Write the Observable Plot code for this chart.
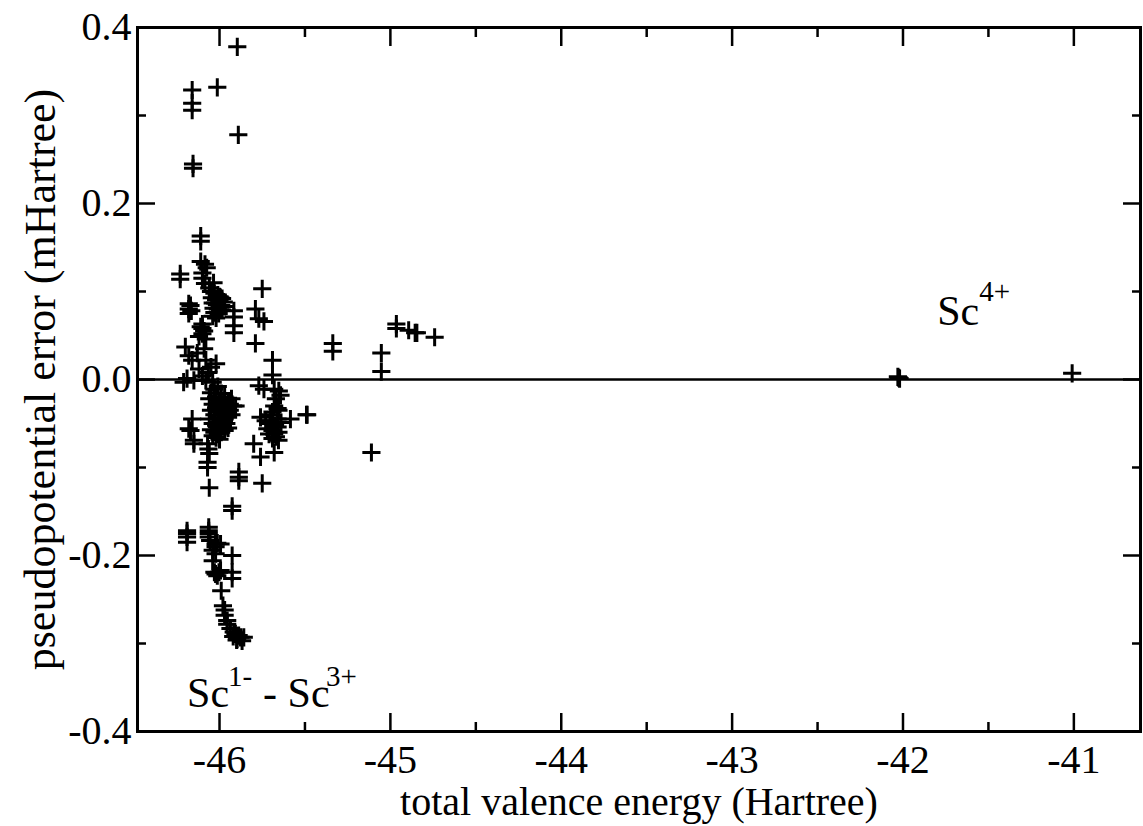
<!DOCTYPE html>
<html>
<head>
<meta charset="utf-8">
<script src="https://cdn.jsdelivr.net/npm/d3@7"></script>
<script src="https://cdn.jsdelivr.net/npm/@observablehq/plot@0.6"></script>
<style>
  html, body { margin: 0; padding: 0; background: #fff; }
  #chart { width: 1143px; height: 826px; }
</style>
</head>
<body>
<div id="chart"></div>
<script>
// ---- data: [total valence energy (Hartree), pseudopotential error (mHartree)] ----
const scLowPoints = [
  [-45.896,0.378],[-46.013,0.332],[-46.16,0.329],[-46.16,0.314],[-46.16,0.306],[-45.89,0.278],[-46.155,0.245],[-46.155,0.240],
  [-46.11,0.163],[-46.11,0.157],[-46.11,0.134],[-46.085,0.131],[-46.075,0.127],[-46.23,0.120],[-46.23,0.114],[-46.10,0.121],
  [-46.10,0.115],[-46.085,0.109],[-46.035,0.110],[-46.06,0.104],[-45.75,0.103],
  [-46.05,0.100],[-46.03,0.098],[-46.01,0.096],[-46.00,0.094],[-45.985,0.092],[-46.045,0.093],[-46.02,0.091],[-46.00,0.089],
  [-45.975,0.088],[-46.04,0.087],[-46.015,0.085],[-45.99,0.084],[-45.97,0.083],[-46.035,0.081],[-46.01,0.080],[-45.985,0.079],
  [-46.03,0.076],[-46.005,0.075],[-46.04,0.072],[-46.02,0.070],[-45.995,0.093],[-46.025,0.087],[-45.995,0.082],
  [-46.18,0.086],[-46.18,0.080],[-46.18,0.075],[-46.17,0.084],[-46.165,0.078],
  [-45.916,0.078],[-45.916,0.071],[-45.916,0.061],[-45.916,0.053],
  [-46.10,0.063],[-46.10,0.058],[-46.10,0.052],[-46.11,0.060],[-46.09,0.055],[-46.12,0.049],[-46.08,0.046],
  [-45.79,0.080],[-45.77,0.069],[-45.74,0.066],[-45.79,0.041],[-45.69,0.022],[-45.69,0.005],
  [-46.2,0.037],[-46.18,0.027],[-46.16,0.022],[-46.08,0.022],[-46.02,0.018],[-46.12,0.012],[-46.065,0.008],[-46.19,0.001],
  [-46.15,-0.001],[-46.08,-0.001],[-46.04,-0.003],[-46.21,-0.003],[-46.10,0.004],[-46.05,0.014],[-46.13,0.030],[-46.09,0.035],
  [-46.03,-0.011],[-45.99,-0.016],[-45.975,-0.024],[-45.94,-0.028],[-46.05,-0.015],[-46.02,-0.020],[-46.00,-0.025],[-45.98,-0.030],
  [-45.96,-0.033],[-46.04,-0.028],[-46.02,-0.032],[-46.00,-0.036],[-45.98,-0.040],[-45.96,-0.038],[-45.94,-0.035],[-46.03,-0.040],
  [-46.01,-0.044],[-45.99,-0.047],[-45.97,-0.045],[-45.95,-0.043],[-46.04,-0.050],[-46.02,-0.052],[-46.00,-0.055],[-45.98,-0.053],
  [-45.96,-0.050],[-46.03,-0.060],[-46.01,-0.062],[-45.99,-0.060],[-45.97,-0.058],[-46.02,-0.066],[-46.00,-0.068],[-46.04,-0.064],
  [-45.95,-0.028],[-45.93,-0.022],[-45.97,-0.020],[-46.01,-0.008],[-46.06,-0.022],[-46.05,-0.035],[-46.06,-0.045],[-45.92,-0.030],
  [-45.906,-0.030],[-45.93,-0.040],[-45.95,-0.055],[-46.05,-0.057],
  [-46.16,-0.045],[-46.18,-0.056],[-46.17,-0.058],[-46.15,-0.069],[-46.15,-0.073],[-46.07,-0.073],[-46.065,-0.079],[-46.06,-0.084],
  [-46.07,-0.094],[-46.07,-0.100],[-46.06,-0.123],[-45.887,-0.105],[-45.887,-0.111],[-45.887,-0.115],[-45.926,-0.144],[-45.926,-0.149],
  [-45.77,-0.007],[-45.74,-0.011],[-45.68,-0.011],[-45.653,-0.013],[-45.643,-0.018],[-45.67,-0.022],[-45.68,-0.030],[-45.66,-0.033],
  [-45.69,-0.037],[-45.655,-0.035],[-45.76,-0.043],[-45.73,-0.047],[-45.70,-0.047],[-45.66,-0.045],[-45.64,-0.049],[-45.585,-0.045],
  [-45.487,-0.040],[-45.72,-0.056],[-45.69,-0.058],[-45.66,-0.054],[-45.68,-0.062],[-45.71,-0.062],[-45.655,-0.060],[-45.69,-0.067],
  [-45.655,-0.069],[-45.80,-0.073],[-45.76,-0.088],[-45.68,-0.083],[-45.75,-0.118],[-45.70,-0.050],[-45.675,-0.052],[-45.70,-0.040],
  [-45.67,-0.065],
  [-46.19,-0.172],[-46.19,-0.175],[-46.19,-0.185],[-46.19,-0.179],[-46.063,-0.168],[-46.063,-0.172],[-46.063,-0.175],[-46.063,-0.179],
  [-46.055,-0.183],[-46.023,-0.187],[-46.023,-0.190],[-46.04,-0.194],[-46.023,-0.198],[-46.013,-0.186],[-45.994,-0.187],[-45.926,-0.200],
  [-46.04,-0.206],[-46.03,-0.219],[-46.013,-0.223],[-46.003,-0.219],[-46.023,-0.221],[-45.994,-0.217],[-45.926,-0.219],[-45.926,-0.226],
  [-45.99,-0.240],[-45.98,-0.257],[-45.97,-0.262],[-45.97,-0.268],[-45.955,-0.274],[-45.955,-0.278],[-45.936,-0.283],[-45.917,-0.287],
  [-45.907,-0.289],[-45.888,-0.291],[-45.877,-0.293],[-45.858,-0.293],[-45.897,-0.295],[-45.868,-0.297],[-45.92,-0.292],[-45.90,-0.296],
  [-45.337,0.041],[-45.337,0.032],[-45.053,0.030],[-45.053,0.009],[-44.965,0.063],[-44.965,0.058],[-44.893,0.056],[-44.855,0.053],
  [-44.845,0.053],[-44.741,0.048],[-45.491,-0.040],[-45.111,-0.083]
];
const sc4Points = [[-42.03,0.003],[-42.02,0.001],[-42.025,0.002],[-41.01,0.007]];

const xMajorTicks = [-46, -45, -44, -43, -42, -41];
const xMinorTicks = [-45.5, -44.5, -43.5, -42.5, -41.5];
const yMajorTicks = [-0.4, -0.2, 0, 0.2, 0.4];
const yMinorTicks = [-0.3, -0.1, 0.1, 0.3];

const xTitle = "total valence energy (Hartree)";
const yTitle = "pseudopotential error (mHartree)";
const lowLabelAnchor = [{x: -46.19, y: -0.372}];
const highLabelAnchor = [{x: -41.80, y: 0.0614}];

// ---- chart ----
const points = [...scLowPoints, ...sc4Points];
const font = "'Liberation Serif', 'Times New Roman', Times, serif";

const tickOpts = (anchor, size) => ({anchor, tickSize: size, fill: "none", strokeWidth: 2.5});

const chart = Plot.plot({
  width: 1143,
  height: 826,
  marginLeft: 137,
  marginRight: 3,
  marginTop: 27,
  marginBottom: 95,
  x: {domain: [-46.48, -40.61], label: null, axis: null},
  y: {domain: [-0.4, 0.4], label: null, axis: null},
  style: {fontFamily: font, background: "white", color: "black"},
  marks: [
    Plot.ruleY([0], {strokeWidth: 2.5}),
    // tick labels
    Plot.axisX(xMajorTicks, {anchor: "bottom", tickSize: 0, tickPadding: 13, fontSize: 40, tickFormat: d => String(d)}),
    Plot.axisY(yMajorTicks, {anchor: "left", tickSize: 0, tickPadding: 6, fontSize: 40, tickFormat: d => d.toFixed(1)}),
    // inward ticks on all four sides
    Plot.axisX(xMajorTicks, tickOpts("bottom", -18)),
    Plot.axisX(xMajorTicks, tickOpts("top", -18)),
    Plot.axisX(xMinorTicks, tickOpts("bottom", -9)),
    Plot.axisX(xMinorTicks, tickOpts("top", -9)),
    Plot.axisY(yMajorTicks, tickOpts("left", -18)),
    Plot.axisY(yMajorTicks, tickOpts("right", -18)),
    Plot.axisY(yMinorTicks, tickOpts("left", -9)),
    Plot.axisY(yMinorTicks, tickOpts("right", -9)),
    // data
    Plot.dot(points, {x: d => d[0], y: d => d[1], symbol: "plus", r: 5.9, stroke: "black", strokeWidth: 3}),
    // annotations
    Plot.text(lowLabelAnchor, {x: "x", y: "y", text: () => "Sc", textAnchor: "start", lineAnchor: "bottom", fontSize: 42}),
    Plot.text(lowLabelAnchor, {x: "x", y: "y", text: () => "1-", textAnchor: "start", lineAnchor: "bottom", fontSize: 29, dx: 41, dy: -21}),
    Plot.text(lowLabelAnchor, {x: "x", y: "y", text: () => "- Sc", textAnchor: "start", lineAnchor: "bottom", fontSize: 42, dx: 76}),
    Plot.text(lowLabelAnchor, {x: "x", y: "y", text: () => "3+", textAnchor: "start", lineAnchor: "bottom", fontSize: 29, dx: 139, dy: -21}),
    Plot.text(highLabelAnchor, {x: "x", y: "y", text: () => "Sc", textAnchor: "start", lineAnchor: "bottom", fontSize: 42}),
    Plot.text(highLabelAnchor, {x: "x", y: "y", text: () => "4+", textAnchor: "start", lineAnchor: "bottom", fontSize: 29, dx: 42, dy: -24}),
    // axis titles
    Plot.text([xTitle], {frameAnchor: "bottom", text: d => d, textAnchor: "middle", lineAnchor: "bottom", fontSize: 40, dy: 83}),
    Plot.text([yTitle], {frameAnchor: "left", text: d => d, textAnchor: "middle", rotate: -90, lineAnchor: "middle", fontSize: 44, dx: -97}),
    Plot.frame({strokeWidth: 3})
  ]
});
document.getElementById("chart").appendChild(chart);
</script>
</body>
</html>
